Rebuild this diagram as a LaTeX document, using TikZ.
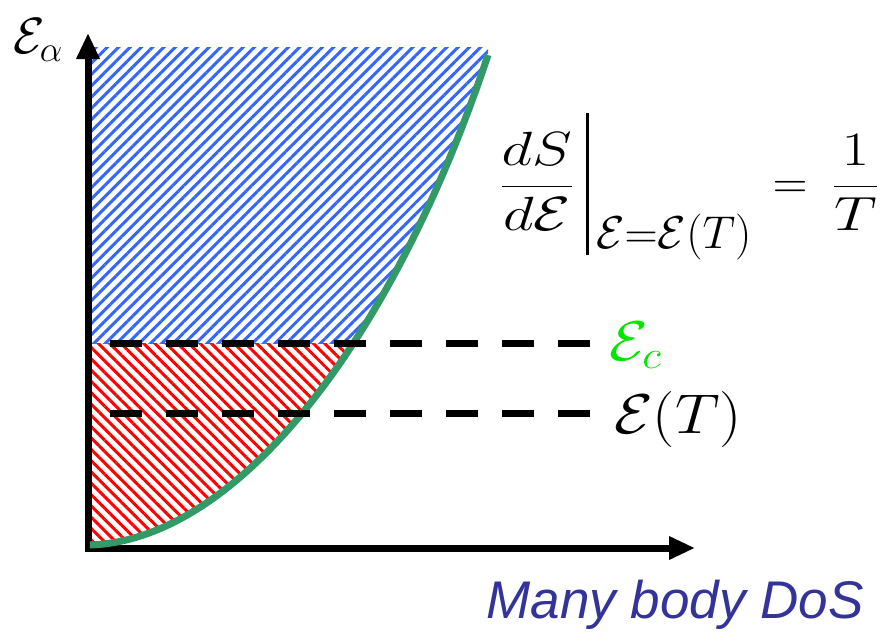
\RequirePackage{fix-cm}
\documentclass[tikz,border=0pt]{standalone}
\usepackage{fontspec}
\newfontfamily\dosfont{Liberation Sans}
\usetikzlibrary{patterns.meta,arrows.meta}
\definecolor{curvegreen}{RGB}{51,153,102}
\definecolor{hatchblue}{RGB}{51,102,255}
\definecolor{dosblue}{RGB}{51,51,153}
\definecolor{ecgreen}{RGB}{0,230,0}
\tikzset{
  axisline/.style={line width=7pt,-{Triangle[length=26pt,width=22pt]}},
  levelline/.style={line width=7pt,dash pattern=on 32pt off 24pt},
  dosline/.style={line width=7pt,curvegreen},
  bluehatch/.style={pattern={Lines[angle=45,distance=8pt,line width=3pt]},pattern color=hatchblue},
  redhatch/.style={pattern={Lines[angle=-45,distance=8pt,line width=3pt]},pattern color=red},
  mathlabel/.style={anchor=base west,inner sep=0pt,font=\fontsize{56}{64}\selectfont},
}
\begin{document}
\begin{tikzpicture}[x=1pt,y=-1pt]
\useasboundingbox (0,0) rectangle (887,641);
% hatched regions
\begin{scope}
  \clip (0,0) rectangle (887,343);
  \path[bluehatch] (92,47) -- (92,545) -- (90,545) .. controls (240,540) and (395,335) .. (488,55) -- (488,47) -- cycle;
\end{scope}
\begin{scope}
  \clip (0,343) rectangle (887,641);
  \path[redhatch] (92,47) -- (92,545) -- (90,545) .. controls (240,540) and (395,335) .. (488,55) -- (488,47) -- cycle;
\end{scope}
% axes
\coordinate (origin) at (88,548);
\coordinate (ytip) at (88,33);
\coordinate (xtip) at (695,548);
\draw[axisline] (88,551) -- (ytip);
\draw[axisline] (85,548) -- (xtip);
% DoS curve
\draw[dosline] (90,545) .. controls (240,540) and (395,335) .. (488,55);
% level lines
\coordinate (ecstart) at (110,343);
\coordinate (etstart) at (110,413);
\coordinate (ecend) at (590,343);
\coordinate (etend) at (590,413);
\node[mathlabel] (ec) at (609,360) {\scalebox{1.12}[1]{$\color{ecgreen}\mathcal{E}_c$}};
\node[mathlabel] (et) at (614,433) {\scalebox{1.12}[1]{$\mathcal{E}(T)$}};
\draw[levelline] (ecstart) -- (ecend);
\draw[levelline] (etstart) -- (etend);
% labels
\node[inner sep=0pt,font=\fontsize{51}{58}\selectfont] (ealpha) at (38,40) {$\mathcal{E}_\alpha$};
\node[anchor=base west,inner sep=0pt,font=\fontsize{48}{56}\selectfont] (formula) at (500,198)
  {$\displaystyle \scalebox{1.25}[1]{$\displaystyle\frac{dS}{d\mathcal{E}}$}\kern13pt\vrule width 3pt height 85pt depth 57pt\kern7pt\raisebox{-50pt}{\fontsize{46}{52}\selectfont$\mathcal{E}{=}\mathcal{E}(T)$}\kern8pt = \kern12pt\scalebox{1.25}[1]{$\displaystyle\frac{1}{T}$}$};
\node[anchor=south east,inner sep=0pt,font=\dosfont\itshape\fontsize{53}{60}\selectfont,text=dosblue] (dos) at (864,630) {Many body DoS};
\end{tikzpicture}
\end{document}
